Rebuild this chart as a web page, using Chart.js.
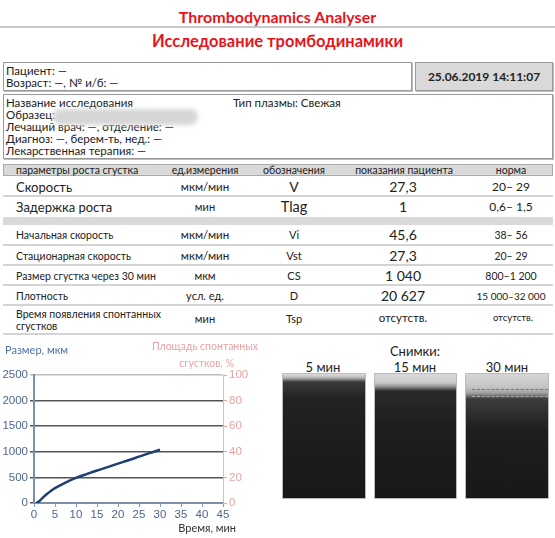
<!DOCTYPE html>
<html>
<head>
<meta charset="utf-8">
<script src="https://cdn.jsdelivr.net/npm/chart.js@4.4.0/dist/chart.umd.min.js"></script>
<style>
  body { margin: 0; width: 555px; height: 538px; background: #fff; font-family: Lato, "Open Sans", sans-serif; color: #222; position: relative; overflow: hidden; }
  .abs { position: absolute; }
  .red { color: #e8141c; font-weight: bold; text-align: center; left: 0; width: 555px; }
  .box { border: 1px solid #999; box-shadow: 1px 1px 0 #bbb; box-sizing: border-box; }
  .ln { position: absolute; left: 6px; font-size: 11.5px; line-height: 12px; white-space: nowrap; }
  .row { left: 3px; width: 550px; }
  .sep { left: 3px; width: 550px; height: 2px; background: #d4d4d4; }
  .c { position: absolute; text-align: center; transform: translateX(-50%); white-space: nowrap; }
  .l { position: absolute; white-space: nowrap; }
  .snap { background: #1b1b1b; border: 1px solid #bbb; box-sizing: border-box; overflow: hidden; }
</style>
</head>
<body>
<div class="abs red" style="top:7px; font-size:16px;">Thrombodynamics Analyser</div>
<div class="abs" style="left:0; top:26px; width:555px; height:2px; background:#c8c8c8;"></div>
<div class="abs red" style="top:31px; font-size:16.5px;">Исследование тромбодинамики</div>

<div class="abs box" style="left:3px; top:62px; width:409px; height:29px;"></div>
<div class="ln" style="top:65px;">Пациент: —</div>
<div class="ln" style="top:77px;">Возраст: —, № и/б: —</div>
<div class="abs box" style="left:415px; top:62px; width:138px; height:29px; background:#d9d9d9; font-weight:bold; font-size:12px; text-align:center; line-height:27px;">25.06.2019 14:11:07</div>

<div class="abs box" style="left:3px; top:94px; width:550px; height:65px;"></div>
<div class="ln" style="top:97px;">Название исследования</div>
<div class="ln" style="top:109px;">Образец:</div>
<div class="ln" style="top:121px;">Лечащий врач: —, отделение: —</div>
<div class="ln" style="top:133px;">Диагноз: —, берем-ть, нед.: —</div>
<div class="ln" style="top:145px;">Лекарственная терапия: —</div>
<div class="ln" style="left:233px; top:97px;">Тип плазмы: Свежая</div>
<div class="abs" style="left:53px; top:109px; width:145px; height:16px; border-radius:8px; background:#d6d6d6; filter:blur(2px);"></div>

<div class="abs" style="left:3px; top:164px; width:550px; height:12px; background:#d9d9d9; border:1px solid #aaa; box-sizing:border-box;"></div>
<div class="abs row" style="top:164px; height:12px; font-size:10.5px; line-height:12px;">
  <span class="l" style="left:13px;">параметры роста сгустка</span>
  <span class="c" style="left:202px;">ед.измерения</span>
  <span class="c" style="left:291px;">обозначения</span>
  <span class="c" style="left:401px;">показания пациента</span>
  <span class="c" style="left:508px;">норма</span>
</div>

<div class="abs row" style="top:178px; height:18px; line-height:18px;">
  <span class="l" style="left:13px; font-size:13px;">Скорость</span>
  <span class="c" style="left:202px; font-size:11.5px;">мкм/мин</span>
  <span class="c" style="left:291px; font-size:14px;">V</span>
  <span class="c" style="left:400px; font-size:14px;">27,3</span>
  <span class="c" style="left:508px; font-size:12px;">20– 29</span>
</div>
<div class="abs sep" style="top:195px;"></div>
<div class="abs row" style="top:198px; height:18px; line-height:18px;">
  <span class="l" style="left:13px; font-size:13px;">Задержка роста</span>
  <span class="c" style="left:202px; font-size:11px;">мин</span>
  <span class="c" style="left:291px; font-size:14.5px;">Tlag</span>
  <span class="c" style="left:400px; font-size:14px;">1</span>
  <span class="c" style="left:508px; font-size:12px;">0,6– 1,5</span>
</div>
<div class="abs" style="left:3px; top:217px; width:550px; height:8px; background:#d9d9d9;"></div>

<div class="abs row" style="top:226px; height:18px; line-height:18px;">
  <span class="l" style="left:13px; font-size:10.5px;">Начальная скорость</span>
  <span class="c" style="left:202px; font-size:11.5px;">мкм/мин</span>
  <span class="c" style="left:291px; font-size:11px;">Vi</span>
  <span class="c" style="left:400px; font-size:14px;">45,6</span>
  <span class="c" style="left:508px; font-size:10.5px;">38– 56</span>
</div>
<div class="abs sep" style="top:244px;"></div>
<div class="abs row" style="top:247px; height:18px; line-height:18px;">
  <span class="l" style="left:13px; font-size:10.5px;">Стационарная скорость</span>
  <span class="c" style="left:202px; font-size:11.5px;">мкм/мин</span>
  <span class="c" style="left:291px; font-size:11px;">Vst</span>
  <span class="c" style="left:400px; font-size:14px;">27,3</span>
  <span class="c" style="left:508px; font-size:10.5px;">20– 29</span>
</div>
<div class="abs sep" style="top:264px;"></div>
<div class="abs row" style="top:267px; height:18px; line-height:18px;">
  <span class="l" style="left:13px; font-size:10.5px;">Размер сгустка через 30 мин</span>
  <span class="c" style="left:202px; font-size:11px;">мкм</span>
  <span class="c" style="left:291px; font-size:11px;">CS</span>
  <span class="c" style="left:400px; font-size:14px;">1 040</span>
  <span class="c" style="left:508px; font-size:10.5px;">800–1 200</span>
</div>
<div class="abs sep" style="top:284px;"></div>
<div class="abs row" style="top:287px; height:18px; line-height:18px;">
  <span class="l" style="left:13px; font-size:10.5px;">Плотность</span>
  <span class="c" style="left:202px; font-size:11px;">усл. ед.</span>
  <span class="c" style="left:291px; font-size:11px;">D</span>
  <span class="c" style="left:400px; font-size:14px;">20 627</span>
  <span class="c" style="left:508px; font-size:10px;">15 000–32 000</span>
</div>
<div class="abs sep" style="top:304px;"></div>
<div class="abs row" style="top:307px; height:26px;">
  <span class="l" style="left:13px; top:1px; font-size:10.5px; line-height:12px;">Время появления спонтанных<br>сгустков</span>
  <span class="c" style="left:202px; top:5px; font-size:11px;">мин</span>
  <span class="c" style="left:291px; top:5px; font-size:11px;">Tsp</span>
  <span class="c" style="left:400px; top:4px; font-size:11.5px;">отсутств.</span>
  <span class="c" style="left:510px; top:5px; font-size:9.5px;">отсутств.</span>
</div>
<div class="abs sep" style="top:333px;"></div>

<div class="abs" style="left:0; top:340px; width:262px; height:198px;"><canvas id="growth"></canvas></div>

<div class="c" style="left:415px; top:343px; font-size:13px;">Снимки:</div>
<div class="c" style="left:323px; top:359px; font-size:13px;">5 мин</div>
<div class="c" style="left:415px; top:359px; font-size:13px;">15 мин</div>
<div class="c" style="left:507px; top:359px; font-size:13px;">30 мин</div>
<div class="abs snap" style="left:282px; top:373px; width:84px; height:126px; background:linear-gradient(#e0e0e0 0, #b0b0b0 4px, #3a3a3a 8px, #222 20%, #1c1c1c 60%, #181818 100%);"></div>
<div class="abs snap" style="left:374px; top:373px; width:83px; height:126px; background:linear-gradient(#dadada 0, #c8c8c8 9px, #8a8a8a 13px, #2a2a2a 17px, #1e1e1e 40%, #181818 100%);"></div>
<div class="abs snap" style="left:465px; top:373px; width:84px; height:126px; background:linear-gradient(#d6d6d6 0, #c4c4c4 13px, #a0a0a0 19px, #3c3c3c 25px, #1e1e1e 45%, #181818 100%);">
  <div class="abs" style="left:6px; top:15px; width:76px; border-top:1px dashed #777;"></div>
  <div class="abs" style="left:6px; top:22px; width:76px; border-top:1px dashed #aaa;"></div>
</div>

<script>
// clot size over time
const timeMin = [0.5, 1, 2, 3, 4, 5, 7.5, 10, 12.5, 15, 17.5, 20, 22.5, 25, 27.5, 30];
const sizeUm = [0, 20, 95, 170, 235, 290, 400, 490, 565, 635, 700, 770, 835, 905, 975, 1040];
const sizeTitle = 'Размер, мкм';
const areaTitle = ['Площадь спонтанных', 'сгустков, %'];
const timeTitle = 'Время, мин';

const axisBlue = '#4d6690';
const pink = '#e9a3a3';

// axis titles placed like in the report
const axisTitles = {
    id: 'axisTitles',
    afterDraw(chart) {
        const ctx = chart.ctx;
        const area = chart.chartArea;
        ctx.save();
        ctx.textBaseline = 'middle';
        ctx.font = '11px Lato, sans-serif';
        ctx.fillStyle = '#4f72a8';
        ctx.textAlign = 'left';
        ctx.fillText(sizeTitle, 5, 10);
        ctx.font = '10.5px Lato, sans-serif';
        ctx.fillStyle = pink;
        ctx.textAlign = 'right';
        ctx.fillText(areaTitle[0], area.right + 35, 7);
        ctx.fillText(areaTitle[1], area.right + 11, 24);
        ctx.font = '11px Lato, sans-serif';
        ctx.fillStyle = '#333';
        ctx.fillText(timeTitle, area.right + 13, 188);
        ctx.restore();
    }
};

new Chart('growth', {
    type: 'line',
    data: {
        datasets: [{
            data: timeMin.map(function (t, i) { return { x: t, y: sizeUm[i] }; }),
            borderColor: '#1f3f73',
            borderWidth: 2.5,
            pointRadius: 0,
            tension: 0.4,
            fill: false,
            yAxisID: 'y'
        }]
    },
    options: {
        responsive: true,
        maintainAspectRatio: false,
        animation: false,
        layout: { padding: { top: 35 } },
        scales: {
            x: {
                type: 'linear',
                min: 0,
                max: 45,
                afterFit: function (scale) { scale.height = 35; },
                ticks: { stepSize: 5, color: axisBlue, font: { size: 11.5 }, padding: 1 },
                grid: { drawOnChartArea: false, tickLength: 4, color: '#8a9ab4' },
                border: { color: '#7d8ea8', width: 2 }
            },
            y: {
                min: 0,
                max: 2500,
                afterFit: function (scale) { scale.width = 34; },
                ticks: {
                    stepSize: 500,
                    color: axisBlue,
                    font: { size: 11.5 },
                    padding: 2,
                    callback: function (value) { return String(value); }
                },
                grid: {
                    tickLength: 4,
                    lineWidth: 1.5,
                    color: function (c) { return c.tick && c.tick.value === 2500 ? '#bdbdbd' : '#555555'; }
                },
                border: { color: '#7d8ea8', width: 2 }
            },
            y1: {
                position: 'right',
                display: true,
                min: 0,
                max: 100,
                afterFit: function (scale) { scale.width = 39; },
                ticks: { stepSize: 20, color: pink, font: { size: 11.5 }, padding: 2 },
                grid: { drawOnChartArea: false, tickLength: 4, color: pink },
                border: { color: '#c4c4c4', width: 1 }
            }
        },
        plugins: {
            legend: { display: false },
            tooltip: { enabled: false }
        }
    },
    plugins: [axisTitles]
});
</script>
</body>
</html>
